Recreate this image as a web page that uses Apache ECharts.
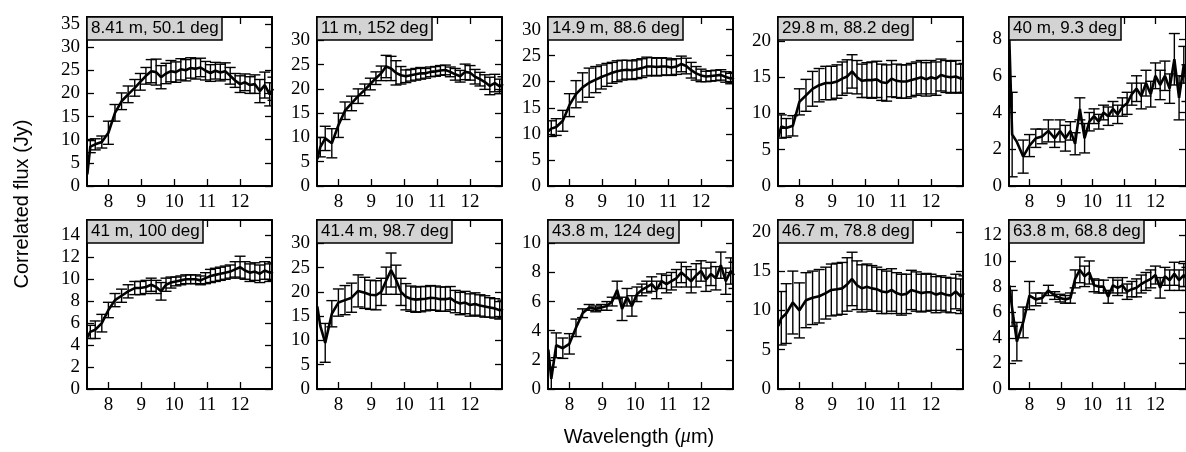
<!DOCTYPE html>
<html>
<head>
<meta charset="utf-8">
<script src="https://cdn.jsdelivr.net/npm/echarts@6/dist/echarts.min.js"></script>
<style>
html,body{margin:0;padding:0;background:#fff;}
#c{width:1186px;height:452px;}
</style>
</head>
<body>
<div id="c"></div>
<script>
// ---- data ----
const wavelength = [7.36, 7.45, 7.6, 7.8, 8.0, 8.2, 8.4, 8.6, 8.8, 8.97, 9.14, 9.3, 9.45, 9.6, 9.75, 9.9, 10.05, 10.2, 10.35, 10.5, 10.65, 10.8, 10.95, 11.1, 11.25, 11.4, 11.55, 11.7, 11.85, 12.0, 12.15, 12.3, 12.45, 12.6, 12.75, 12.9, 13.0];

const panelLabels = ['8.41 m, 50.1 deg', '11 m, 152 deg', '14.9 m, 88.6 deg', '29.8 m, 88.2 deg', '40 m, 9.3 deg',
                     '41 m, 100 deg', '41.4 m, 98.7 deg', '43.8 m, 124 deg', '46.7 m, 78.8 deg', '63.8 m, 68.8 deg'];

const flux1 = [2.5, 8.5, 9.0, 9.5, 11.5, 15.8, 18.3, 19.8, 21.2, 22.5, 23.8, 24.8, 24.6, 23.5, 24.3, 24.8, 24.6, 25.2, 25.0, 25.5, 25.3, 25.6, 24.9, 24.4, 24.9, 24.5, 24.8, 23.8, 22.8, 22.0, 22.4, 21.8, 22.0, 20.5, 21.8, 19.8, 21.0];
const err1  = [null, 1.3, 1.2, 1.3, 2.5, 1.8, 1.8, 1.8, 1.8, 1.8, 1.8, 2.5, 2.8, 2.5, 2.2, 2.3, 2.2, 2.3, 2.3, 2.2, 2.2, 2.0, 2.0, 1.8, 1.8, 1.8, 1.8, 1.8, 1.5, 1.8, 1.8, 1.8, 2.0, 2.5, 2.8, 2.5, 2.5];

const flux2 = [5.5, 8.0, 9.8, 8.8, 12.5, 15.5, 17.0, 18.5, 19.8, 21.0, 22.2, 23.2, 24.6, 24.2, 23.3, 22.8, 22.6, 22.8, 23.0, 23.2, 23.2, 23.5, 23.6, 23.8, 23.9, 23.5, 23.0, 22.6, 23.5, 23.3, 22.5, 22.0, 21.4, 20.6, 21.2, 20.5, 21.0];
const err2  = [null, 2.0, 2.5, 3.0, 2.5, 1.8, 1.5, 1.5, 1.2, 1.2, 1.3, 1.5, 2.3, 2.5, 2.5, 1.8, 1.3, 1.2, 1.2, 1.2, 1.0, 1.0, 1.0, 1.0, 1.0, 1.0, 1.2, 1.2, 1.6, 1.5, 1.5, 1.4, 1.5, 1.8, 1.8, 1.5, 1.5];

const flux3 = [10.5, 11.0, 11.3, 12.5, 15.5, 17.6, 18.9, 19.8, 20.4, 20.9, 21.3, 21.7, 22.0, 22.2, 22.3, 22.2, 22.4, 22.6, 22.9, 22.9, 22.8, 22.9, 22.9, 22.7, 22.9, 23.4, 23.0, 22.2, 21.6, 21.2, 21.0, 21.1, 21.2, 21.3, 20.9, 20.6, 20.8];
const err3  = [null, 1.5, 1.6, 2.0, 2.2, 2.6, 2.8, 2.8, 2.5, 2.3, 2.2, 2.0, 2.0, 1.9, 1.8, 1.8, 1.8, 1.8, 1.8, 1.7, 1.7, 1.7, 1.6, 1.5, 1.5, 1.5, 1.5, 1.5, 1.3, 1.2, 1.0, 1.0, 1.0, 1.0, 1.0, 1.0, 1.0];

const flux4 = [6.7, 8.2, 8.0, 8.3, 11.6, 12.5, 13.4, 13.9, 14.2, 14.2, 14.4, 14.8, 15.1, 15.8, 15.0, 14.5, 14.6, 14.6, 14.7, 14.3, 14.2, 14.8, 14.5, 14.4, 14.4, 14.6, 14.8, 15.0, 14.7, 15.0, 14.8, 15.3, 15.1, 15.0, 15.1, 14.8, 14.9];
const err4  = [null, 1.6, 1.3, 1.4, 1.8, 2.2, 2.4, 2.3, 2.3, 2.3, 2.3, 2.3, 2.3, 2.3, 2.3, 2.3, 2.4, 2.5, 2.5, 2.5, 2.5, 2.5, 2.3, 2.3, 2.3, 2.3, 2.3, 2.3, 2.3, 2.3, 2.3, 2.2, 2.2, 2.2, 2.2, 2.0, 2.0];

const flux5 = [8.0, 2.8, 2.4, 1.6, 2.2, 2.6, 2.7, 3.0, 2.6, 3.0, 2.6, 3.0, 2.3, 4.2, 2.6, 3.5, 3.8, 3.5, 4.0, 3.8, 4.2, 3.9, 4.3, 4.5, 5.0, 5.3, 4.9, 5.6, 5.0, 6.0, 5.5, 6.0, 5.3, 6.9, 4.8, 6.6, 5.6];
const err5  = [8.5, 2.3, null, 0.9, 0.6, 0.5, 0.4, 0.6, 0.5, 0.6, 0.7, 0.5, 0.6, 0.6, 0.8, 0.5, 0.4, 0.4, 0.4, 0.5, 0.4, 0.5, 0.5, 0.6, 0.6, 0.7, 0.7, 0.7, 0.7, 0.7, 0.8, 0.8, 0.8, 1.4, 1.2, 1.0, 1.0];

const flux6 = [4.7, 5.2, 5.4, 6.0, 7.2, 8.1, 8.5, 8.9, 9.2, 9.2, 9.3, 9.5, 9.3, 8.9, 9.5, 9.7, 9.8, 9.9, 10.0, 10.0, 10.0, 9.9, 10.1, 10.3, 10.4, 10.5, 10.6, 10.7, 10.9, 11.1, 10.8, 10.6, 10.7, 10.5, 10.8, 10.6, 10.7];
const err6  = [null, 0.6, 0.8, 0.8, 0.7, 0.6, 0.6, 0.6, 0.6, 0.6, 0.6, 0.6, 0.6, 0.8, 0.6, 0.5, 0.4, 0.4, 0.4, 0.4, 0.4, 0.4, 0.5, 0.6, 0.6, 0.6, 0.6, 0.6, 0.7, 1.0, 0.8, 0.8, 0.8, 0.8, 0.8, 0.8, 0.8];

const flux7 = [17.0, 13.0, 9.5, 15.5, 17.8, 18.3, 18.8, 20.2, 19.8, 19.4, 19.3, 20.0, 22.3, 24.5, 22.5, 20.0, 19.0, 18.6, 18.4, 18.5, 18.6, 18.8, 18.7, 18.5, 18.5, 18.7, 18.0, 17.6, 17.8, 17.3, 17.5, 17.2, 17.0, 16.8, 16.6, 16.2, 16.5];
const err7  = [null, null, 4.0, 2.7, 2.8, 3.0, 3.0, 3.3, 3.2, 3.0, 3.0, 2.8, 2.8, 3.5, 3.0, 2.8, 2.7, 2.6, 2.6, 2.6, 2.5, 2.5, 2.5, 2.5, 2.5, 2.4, 2.3, 2.3, 2.3, 2.3, 2.3, 2.2, 2.2, 2.0, 2.0, 1.8, 1.8];

const flux8 = [2.7, 0.7, 3.0, 2.8, 3.1, 4.2, 5.2, 5.6, 5.5, 5.6, 5.7, 6.0, 6.8, 5.5, 6.3, 5.7, 6.5, 6.8, 7.0, 7.2, 6.8, 7.4, 7.2, 7.4, 7.6, 8.0, 7.7, 7.4, 7.8, 8.1, 7.5, 7.9, 7.6, 8.5, 7.4, 8.1, 7.8];
const err8  = [null, 0.8, 0.85, 0.7, 0.7, 0.6, 0.3, 0.2, 0.2, 0.2, 0.3, 0.3, 0.6, 0.8, 0.6, 0.7, 0.5, 0.4, 0.4, 0.5, 0.6, 0.5, 0.6, 0.6, 0.6, 0.7, 0.7, 0.8, 0.8, 0.7, 0.8, 0.8, 0.8, 0.9, 0.9, 0.9, 0.9];

const flux9 = [8.0, 9.0, 9.6, 11.0, 10.0, 11.3, 11.6, 11.8, 12.2, 12.6, 12.7, 12.8, 13.3, 14.0, 13.2, 12.8, 13.0, 12.8, 12.7, 12.4, 12.3, 12.6, 12.2, 12.0, 12.1, 12.6, 12.4, 12.2, 12.3, 12.3, 12.0, 12.2, 12.0, 11.9, 12.4, 11.8, 12.2];
const err9  = [null, 3.4, 3.8, 4.0, 3.5, 3.5, 3.4, 3.4, 3.3, 3.3, 3.3, 3.3, 3.4, 3.4, 3.1, 3.0, 2.9, 2.9, 2.8, 2.8, 2.7, 2.7, 2.6, 2.6, 2.5, 2.5, 2.5, 2.4, 2.4, 2.3, 2.3, 2.2, 2.2, 2.2, 2.2, 2.2, 2.2];

const flux10 = [8.1, 6.3, 3.7, 5.2, 7.3, 7.0, 7.1, 7.7, 7.3, 7.1, 7.0, 7.1, 8.6, 9.3, 8.8, 9.1, 8.1, 8.0, 8.0, 7.2, 8.1, 7.9, 8.1, 7.6, 7.8, 7.9, 8.2, 8.4, 8.6, 8.9, 7.9, 8.8, 8.5, 9.0, 8.5, 8.9, 8.6];
const err10  = [null, 1.4, 1.5, 1.2, 1.1, 0.5, 0.4, 0.4, 0.3, 0.3, 0.3, 0.4, 0.7, 1.0, 0.8, 0.9, 0.5, 0.5, 0.5, 0.5, 0.6, 0.6, 0.6, 0.6, 0.6, 0.7, 0.7, 0.7, 0.7, 0.7, 0.8, 0.7, 0.8, 0.9, 0.8, 0.9, 0.9];

const yMax = [36.5, 34.8, 32.4, 23.3, 9.2, 15.4, 34.8, 11.6, 21.5, 13.2];
const yTicks = [
  [0, 5, 10, 15, 20, 25, 30, 35],
  [0, 5, 10, 15, 20, 25, 30],
  [0, 5, 10, 15, 20, 25, 30],
  [0, 5, 10, 15, 20],
  [0, 2, 4, 6, 8],
  [0, 2, 4, 6, 8, 10, 12, 14],
  [0, 5, 10, 15, 20, 25, 30],
  [0, 2, 4, 6, 8, 10],
  [0, 5, 10, 15, 20],
  [0, 2, 4, 6, 8, 10, 12]
];
const xTicks = [8, 9, 10, 11, 12];
const xRange = [7.35, 12.97];

const fluxes = [flux1, flux2, flux3, flux4, flux5, flux6, flux7, flux8, flux9, flux10];
const errors = [err1, err2, err3, err4, err5, err6, err7, err8, err9, err10];

// ---- layout ----
const colLeft = [87, 317, 548, 778, 1009];
const rowTop = [17, 220];
const W = 185, H = 169;
const serif = "'Liberation Serif', 'DejaVu Serif', serif";
const sans = "'Liberation Sans', Arial, sans-serif";

const grid = [], xAxis = [], yAxis = [], series = [], title = [];
for (let i = 0; i < 10; i++) {
  const L = colLeft[i % 5], T = rowTop[Math.floor(i / 5)];
  grid.push({left: L, top: T, width: W, height: H, show: false});
  const axLine = {show: true, onZero: false, lineStyle: {color: '#000', width: 2}};
  const tickStyle = {color: '#000', width: 1.3};
  xAxis.push({gridIndex: i, type: 'value', min: xRange[0], max: xRange[1], position: 'bottom',
    axisLine: axLine, splitLine: {show: false},
    axisTick: {show: true, inside: true, length: 7, customValues: xTicks, lineStyle: tickStyle},
    axisLabel: {show: true, customValues: xTicks, margin: 7, color: '#000', fontFamily: serif, fontSize: 19}});
  xAxis.push({gridIndex: i, type: 'value', min: xRange[0], max: xRange[1], position: 'top',
    axisLine: axLine, splitLine: {show: false},
    axisTick: {show: true, inside: true, length: 7, customValues: xTicks, lineStyle: tickStyle},
    axisLabel: {show: false}});
  yAxis.push({gridIndex: i, type: 'value', min: 0, max: yMax[i], position: 'left',
    axisLine: axLine, splitLine: {show: false},
    axisTick: {show: true, inside: true, length: 7, customValues: yTicks[i], lineStyle: tickStyle},
    axisLabel: {show: true, customValues: yTicks[i], margin: 7, color: '#000', fontFamily: serif, fontSize: 19}});
  yAxis.push({gridIndex: i, type: 'value', min: 0, max: yMax[i], position: 'right',
    axisLine: axLine, splitLine: {show: false},
    axisTick: {show: true, inside: true, length: 7, customValues: yTicks[i], lineStyle: tickStyle},
    axisLabel: {show: false}});

  const lineData = wavelength.map((w, k) => [w, fluxes[i][k]]);
  const errData = [];
  wavelength.forEach((w, k) => { if (errors[i][k] != null) errData.push([w, fluxes[i][k], errors[i][k]]); });

  series.push({type: 'line', xAxisIndex: 2 * i, yAxisIndex: 2 * i, data: lineData,
    symbol: 'none', showSymbol: false, clip: true, animation: false, z: 3,
    lineStyle: {color: '#000', width: 2.6}});
  series.push({type: 'custom', xAxisIndex: 2 * i, yAxisIndex: 2 * i, data: errData, clip: true, animation: false, z: 2,
    renderItem: function (params, api) {
      const x = api.value(0), y = api.value(1), e = api.value(2);
      const a = api.coord([x, y + e]), b = api.coord([x, y - e]);
      const hw = 5.5;
      const st = {stroke: '#000', lineWidth: 1.4};
      const cs = params.coordSys;
      return {type: 'group',
        clipPath: {type: 'rect', shape: {x: cs.x, y: cs.y, width: cs.width, height: cs.height}},
        children: [
          {type: 'line', shape: {x1: a[0], y1: a[1], x2: b[0], y2: b[1]}, style: st},
          {type: 'line', shape: {x1: a[0] - hw, y1: a[1], x2: a[0] + hw, y2: a[1]}, style: st},
          {type: 'line', shape: {x1: b[0] - hw, y1: b[1], x2: b[0] + hw, y2: b[1]}, style: st}
        ]};
    }});

  title.push({text: panelLabels[i], left: L, top: T, padding: [2, 4, 2, 4],
    backgroundColor: '#d3d3d3', borderColor: '#000', borderWidth: 1.5, z: 10,
    textStyle: {fontFamily: sans, fontSize: 17, fontWeight: 'normal', color: '#000', lineHeight: 19}});
}

const chart = echarts.init(document.getElementById('c'), null, {renderer: 'canvas'});
chart.setOption({
  animation: false,
  backgroundColor: '#fff',
  title: title,
  grid: grid,
  xAxis: xAxis,
  yAxis: yAxis,
  series: series,
  graphic: [
    {type: 'text', x: 22, y: 204, rotation: Math.PI / 2,
      style: {text: 'Correlated flux (Jy)', fontFamily: sans, fontSize: 20, fill: '#000', align: 'center', verticalAlign: 'middle'}},
    {type: 'text', x: 639, y: 437,
      style: {text: 'Wavelength ({mu|μ}m)', fontFamily: sans, fontSize: 20, fill: '#000', align: 'center', verticalAlign: 'middle',
        rich: {mu: {fontFamily: serif, fontStyle: 'italic', fontSize: 20, fill: '#000'}}}}
  ]
});
</script>
</body>
</html>
